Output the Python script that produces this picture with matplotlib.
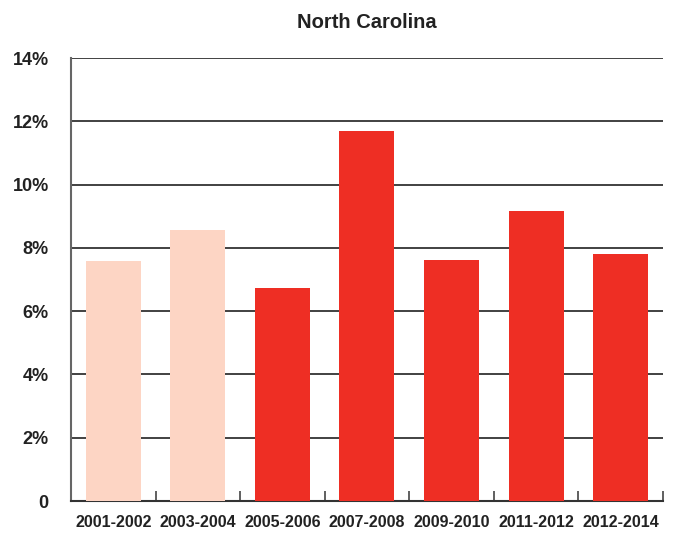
import matplotlib
matplotlib.use("Agg")
import matplotlib.pyplot as plt
from matplotlib.ticker import FixedLocator

plt.rcParams["font.family"] = ["Liberation Sans Narrow", "Liberation Sans", "DejaVu Sans"]

periods = ["2001-2002", "2003-2004", "2005-2006", "2007-2008", "2009-2010", "2011-2012", "2012-2014"]
rates = [7.58, 8.56, 6.73, 11.71, 7.61, 9.16, 7.80]
LIGHT, RED = "#fdd5c4", "#ee2e24"
colors = [LIGHT, LIGHT, RED, RED, RED, RED, RED]
yticks = [0, 2, 4, 6, 8, 10, 12, 14]
ylabels = ["0", "2%", "4%", "6%", "8%", "10%", "12%", "14%"]

fig = plt.figure(figsize=(6.73, 5.33), dpi=100)
ax = fig.add_axes([0.1055, 0.060, 0.8795, 0.831])
x = range(len(periods))
ax.bar(x, rates, 0.65, color=colors, zorder=3)
ax.set_xlim(-0.5, len(periods) - 0.5)
ax.set_ylim(0, 14)

ax.set_yticks(yticks)
ax.set_yticklabels(ylabels, fontsize=13, fontweight="bold", color="#222")
ax.set_xticks(list(x))
ax.set_xticklabels(periods, fontsize=11.5, fontweight="bold", color="#222")
ax.xaxis.set_minor_locator(FixedLocator([i + 0.5 for i in x]))
ax.tick_params(axis="x", which="major", length=0, pad=10)
ax.tick_params(axis="x", which="minor", direction="in", length=7, width=1.2, color="#444")
ax.tick_params(axis="y", length=0, pad=16)

ax.yaxis.grid(True, color="#333", linewidth=1.3, zorder=0)
ax.set_axisbelow(True)
for s in ["top", "right"]:
    ax.spines[s].set_visible(False)
ax.spines["left"].set_color("#666")
ax.spines["left"].set_linewidth(1.5)
ax.spines["bottom"].set_color("#333")
ax.spines["bottom"].set_linewidth(1.5)

ax.set_title("North Carolina", fontsize=14.5, fontweight="bold", color="#222", pad=22)

fig.savefig("out.png", dpi=100)
